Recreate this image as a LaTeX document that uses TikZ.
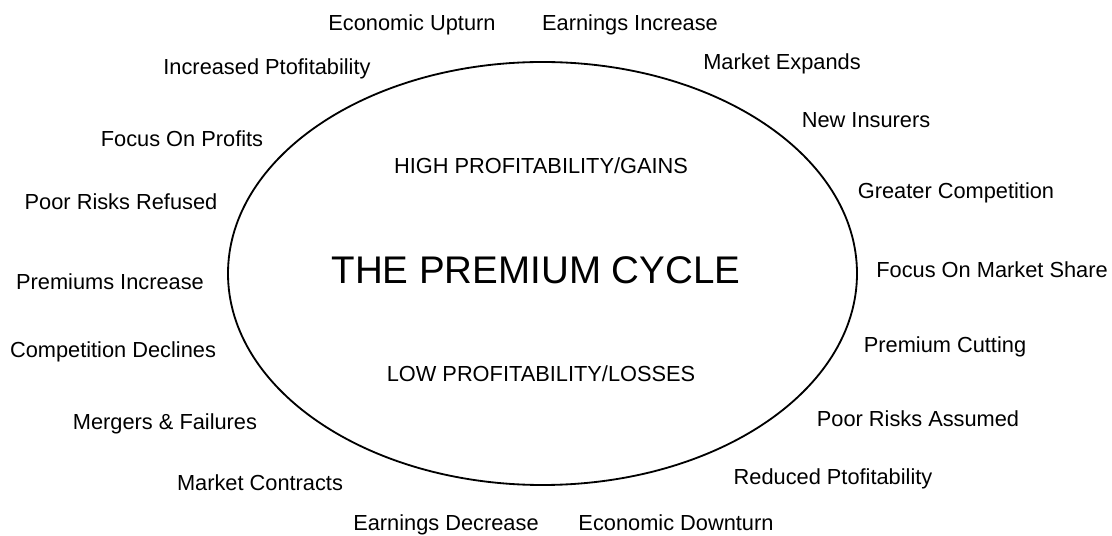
\documentclass[tikz,border=0pt]{standalone}
\usepackage{fontspec}
\setmainfont{Liberation Sans}
\usepackage{tikz}
\usetikzlibrary{positioning,shapes}

\begin{document}
\begin{tikzpicture}[x=0.025cm, y=-0.025cm,
    lbl/.style={anchor=base, inner sep=0pt, font=\fontsize{15.5}{18}\selectfont},
    title/.style={anchor=base, inner sep=0pt, font=\fontsize{27.4}{32}\selectfont}]
\useasboundingbox (0,0) rectangle (1112,536);
% The cycle
\draw[line width=1.3pt] (542.5,273.5) ellipse [x radius=314.5, y radius=211.5];
\node[title] (cycle) at (536,284) {THE PREMIUM CYCLE};
\node[lbl] (high) at (541,174) {HIGH PROFITABILITY/GAINS};
\node[lbl] (low) at (541,382) {LOW PROFITABILITY/LOSSES};
% Upswing (left side)
\node[lbl] (upturn) at (412,31) {Economic Upturn};
\node[lbl] (incprof) at (267,75) {Increased Ptofitability};
\node[lbl] (focusprof) at (182,147) {Focus On Profits};
\node[lbl] (refused) at (121,210) {Poor Risks Refused};
\node[lbl] (premup) at (110,290) {Premiums Increase};
\node[lbl] (compdown) at (113,358) {Competition Declines};
\node[lbl] (mergers) at (165,430) {Mergers \& Failures};
\node[lbl] (contracts) at (260,491) {Market Contracts};
\node[lbl] (earndown) at (446,531) {Earnings Decrease};
% Downswing (right side)
\node[lbl] (earnup) at (630,31) {Earnings Increase};
\node[lbl] (expands) at (782,70) {Market Expands};
\node[lbl] (insurers) at (866,128) {New Insurers};
\node[lbl] (compup) at (956,199) {Greater Competition};
\node[lbl] (share) at (992,278) {Focus On Market Share};
\node[lbl] (cutting) at (945,353) {Premium Cutting};
\node[lbl] (assumed) at (918,427) {Poor Risks Assumed};
\node[lbl] (redprof) at (833,485) {Reduced Ptofitability};
\node[lbl] (downturn) at (676,531) {Economic Downturn};
\end{tikzpicture}
\end{document}
